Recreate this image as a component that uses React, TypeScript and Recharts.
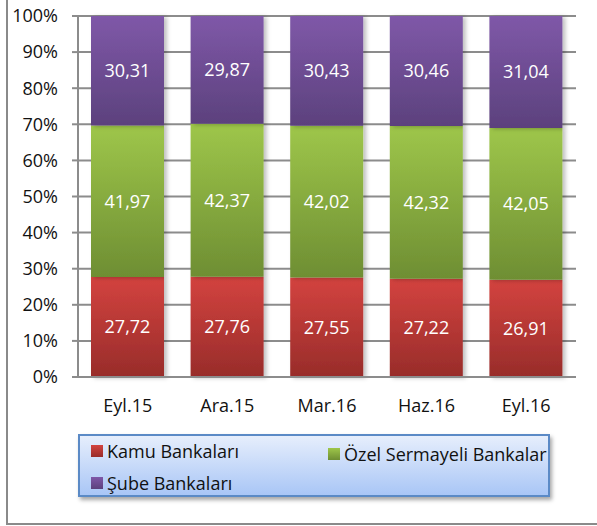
import { BarChart, Bar, XAxis, YAxis, CartesianGrid, LabelList } from "recharts";

const periods = ["Eyl.15", "Ara.15", "Mar.16", "Haz.16", "Eyl.16"];
const kamu = [27.72, 27.76, 27.55, 27.22, 26.91];
const ozel = [41.97, 42.37, 42.02, 42.32, 42.05];
const sube = [30.31, 29.87, 30.43, 30.46, 31.04];
const yTicks = [0, 10, 20, 30, 40, 50, 60, 70, 80, 90, 100];

const series = [
  { key: "kamu", name: "Kamu Bankaları", top: "#D3433F", bottom: "#982C2A" },
  { key: "ozel", name: "Özel Sermayeli Bankalar", top: "#9EC64A", bottom: "#6E8E33" },
  { key: "sube", name: "Şube Bankaları", top: "#7F58A8", bottom: "#5C417D" },
];

const data = periods.map((p, i) => ({ period: p, kamu: kamu[i], ozel: ozel[i], sube: sube[i] }));

const font = "'Open Sans', 'Noto Sans', sans-serif";
const fmt = (v: number) => v.toFixed(2).replace(".", ",");

function LegendBox() {
  const item = (s: (typeof series)[number]) => (
    <div key={s.key} style={{ display: "flex", alignItems: "center", gap: 4, whiteSpace: "nowrap" }}>
      <span
        style={{
          width: 12,
          height: 12,
          background: `linear-gradient(${s.top}, ${s.bottom})`,
          display: "inline-block",
        }}
      />
      <span>{s.name}</span>
    </div>
  );
  return (
    <div
      style={{
        position: "absolute",
        left: 78,
        top: 434,
        width: 472,
        height: 63,
        boxSizing: "border-box",
        border: "2px solid #5B8AC6",
        background: "linear-gradient(#E6EEFC, #A9C6F6)",
        boxShadow: "2px 3px 4px rgba(0,0,0,0.35)",
        fontFamily: font,
        fontSize: 18,
        color: "#111",
        padding: "3px 0 0 11px",
        whiteSpace: "nowrap",
      }}
    >
      <div style={{ display: "flex", height: 30 }}>
        <div style={{ width: 237, flexShrink: 0 }}>{item(series[0])}</div>
        {item(series[1])}
      </div>
      <div style={{ display: "flex", height: 28 }}>{item(series[2])}</div>
    </div>
  );
}

export default function App() {
  return (
    <div style={{ position: "absolute", left: 0, top: 0, width: 597, height: 526, background: "#fff" }}>
      <div
        style={{
          position: "absolute",
          left: 6,
          top: -4,
          width: 600,
          height: 529,
          boxSizing: "border-box",
          border: "2px solid #8a8a8a",
        }}
      />
      <BarChart
        width={597}
        height={526}
        data={data}
        margin={{ top: 16, right: 21, left: 0, bottom: 119 }}
        barSize={73}
      >
        <defs>
          {series.map((s) => (
            <linearGradient key={s.key} id={`g-${s.key}`} x1="0" y1="0" x2="0" y2="1">
              <stop offset="0%" stopColor={s.top} />
              <stop offset="100%" stopColor={s.bottom} />
            </linearGradient>
          ))}
          <filter id="shadow" x="-10%" y="-10%" width="130%" height="120%">
            <feDropShadow dx="3" dy="1" stdDeviation="2" floodColor="#000" floodOpacity="0.25" />
          </filter>
        </defs>
        <CartesianGrid vertical={false} stroke="#8c8c8c" strokeWidth={2} />
        <XAxis
          dataKey="period"
          tickLine={false}
          tickSize={0}
          tickMargin={22}
          axisLine={{ stroke: "#8c8c8c", strokeWidth: 2 }}
          tick={{ fill: "#111", fontSize: 18, fontFamily: font }}
          height={30}
        />
        <YAxis
          type="number"
          domain={[0, 100]}
          ticks={yTicks}
          interval={0}
          width={78}
          tickSize={6}
          tickMargin={14}
          tickFormatter={(v) => `${v}%`}
          axisLine={{ stroke: "#8c8c8c", strokeWidth: 2 }}
          tickLine={{ stroke: "#8c8c8c", strokeWidth: 2 }}
          tick={{ fill: "#111", fontSize: 18, fontFamily: font }}
        />
        {series.map((s) => (
          <Bar
            key={s.key}
            dataKey={s.key}
            name={s.name}
            stackId="a"
            fill={`url(#g-${s.key})`}
            filter="url(#shadow)"
            isAnimationActive={false}
          >
            <LabelList
              dataKey={s.key}
              position="center"
              formatter={(v: number) => fmt(v)}
              style={{ fill: "#fff", fontSize: 18, fontFamily: font }}
            />
          </Bar>
        ))}
      </BarChart>
      <LegendBox />
    </div>
  );
}
